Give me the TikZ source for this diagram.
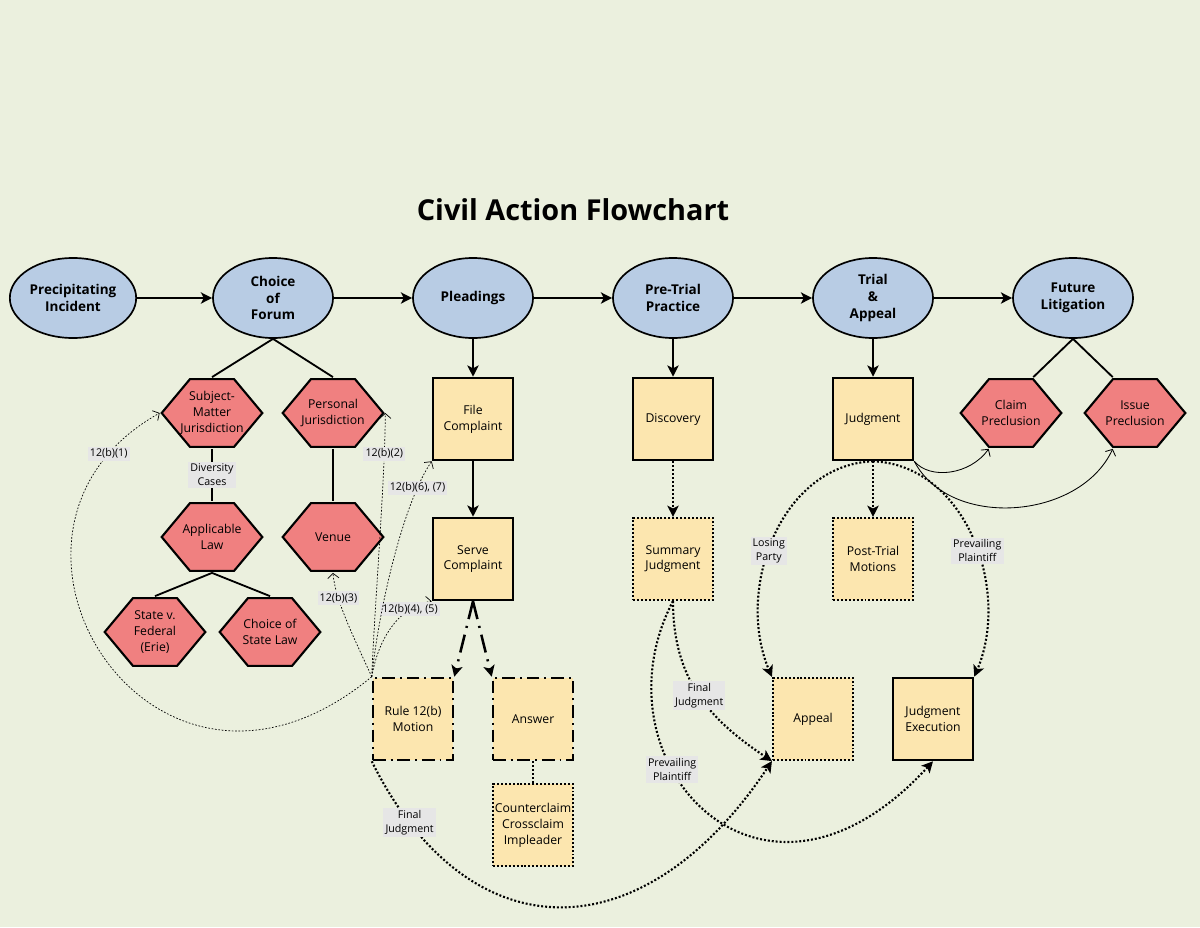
\documentclass[tikz,border=0pt]{standalone}
\usepackage{fontspec}
\setmainfont{Open Sans}
\usetikzlibrary{shapes.geometric,arrows.meta}
\definecolor{fond}{HTML}{EBF0DE}
\definecolor{bleu}{HTML}{B8CCE4}
\definecolor{rouge}{HTML}{F08080}
\definecolor{jaune}{HTML}{FCE6AF}
\definecolor{gris}{HTML}{E6E6E6}

\begin{document}
\begin{tikzpicture}[x=0.025cm,y=-0.025cm]
      \tikzstyle{etape}=[ellipse, draw, line width=1.2pt, fill=bleu, minimum width=3cm, minimum height=2cm, inner sep=1pt, align=center, font=\fontsize{9.6}{12}\selectfont\bfseries]
      \tikzstyle{hexa}=[rectangle, minimum width=2.6cm, minimum height=1.78cm, inner sep=0pt, align=center, fill=fond, font=\fontsize{8.7}{11.3}\selectfont,
        path picture={\filldraw[fill=rouge, draw=black, line width=1.5pt]
          ([xshift=1.2pt]path picture bounding box.west) -- ([xshift=0.75cm,yshift=-1.2pt]path picture bounding box.north west)
          -- ([xshift=-0.75cm,yshift=-1.2pt]path picture bounding box.north east) -- ([xshift=-1.2pt]path picture bounding box.east)
          -- ([xshift=-0.75cm,yshift=1.2pt]path picture bounding box.south east) -- ([xshift=0.75cm,yshift=1.2pt]path picture bounding box.south west) -- cycle;}]
      \tikzstyle{acte}=[rectangle, draw, line width=1.8pt, fill=jaune, minimum width=2cm, minimum height=2.05cm, inner sep=1pt, align=center, font=\fontsize{8.7}{11.3}\selectfont]
      \tikzstyle{actepoint}=[acte, line width=1.5pt, dash pattern=on 1.4pt off 1.4pt]
      \tikzstyle{actetiret}=[acte, dash pattern=on 9pt off 3.5pt on 1.4pt off 3.5pt]
      \tikzstyle{fleche}=[-{Stealth[length=8pt,width=8pt,inset=2pt]}, line width=1.3pt]
      \tikzstyle{flechepoint}=[fleche, line width=1.5pt, dash pattern=on 1.4pt off 1.4pt]
      \tikzstyle{flechetiret}=[fleche, line width=1.8pt, dash pattern=on 13pt off 5pt on 1.5pt off 5pt]
      \tikzstyle{lien}=[line width=1.3pt]
      \tikzstyle{mince}=[-{Straight Barb[length=3.5pt,width=8pt]}, line width=0.6pt]
      \tikzstyle{renvoi}=[mince, line width=0.5pt, dash pattern=on 1.2pt off 1.2pt]
      \tikzstyle{etiquette}=[fill=gris, inner sep=1.5pt, align=center, font=\fontsize{7.6}{10}\selectfont]

      \fill[fond] (0,0) rectangle (1200,927);
      \useasboundingbox (0,0) rectangle (1200,927);

      \node[font=\fontsize{20.5}{24}\selectfont\bfseries] (titre) at (573,210) {Civil Action Flowchart};

      % phases
      \node[etape] (incident) at (73,298) {Precipitating\\Incident};
      \node[etape] (forum) at (273,298) {Choice\\of\\Forum};
      \node[etape] (pleadings) at (473,298) {Pleadings};
      \node[etape] (pretrial) at (673,298) {Pre-Trial\\Practice};
      \node[etape] (trial) at (873,298) {Trial\\\&\\Appeal};
      \node[etape] (future) at (1073,298) {Future\\Litigation};

      % questions
      \node[hexa] (smj) at (212,413) {Subject-\\Matter\\Jurisdiction};
      \node[hexa] (pj) at (333,413) {Personal\\Jurisdiction};
      \node[hexa] (applaw) at (212,537) {Applicable\\Law};
      \node[hexa] (venue) at (333,537) {Venue};
      \node[hexa] (erie) at (155,632) {State v.\\Federal\\(Erie)};
      \node[hexa] (statelaw) at (270,632) {Choice of\\State Law};
      \node[hexa] (claim) at (1011,413) {Claim\\Preclusion};
      \node[hexa] (issue) at (1135,413) {Issue\\Preclusion};

      % actes
      \node[acte] (file) at (473,419) {File\\Complaint};
      \node[acte] (serve) at (473,559) {Serve\\Complaint};
      \node[acte] (discovery) at (673,419) {Discovery};
      \node[actepoint] (summary) at (673,559) {Summary\\Judgment};
      \node[acte] (judgment) at (873,419) {Judgment};
      \node[actepoint] (posttrial) at (873,559) {Post-Trial\\Motions};
      \node[actetiret] (rule) at (413,719) {Rule 12(b)\\Motion};
      \node[actetiret] (answer) at (533,719) {Answer};
      \node[actepoint] (counter) at (533,825) {Counterclaim\\Crossclaim\\Impleader};
      \node[actepoint] (appeal) at (813,719) {Appeal};
      \node[acte] (execution) at (933,719) {Judgment\\Execution};

      \draw[fleche] (incident)--(forum);
      \draw[fleche] (forum)--(pleadings);
      \draw[fleche] (pleadings)--(pretrial);
      \draw[fleche] (pretrial)--(trial);
      \draw[fleche] (trial)--(future);
      \draw[fleche] (pleadings)--(file);
      \draw[fleche] (file)--(serve);
      \draw[fleche] (pretrial)--(discovery);
      \draw[fleche] (trial)--(judgment);
      \draw[flechepoint] (discovery)--(summary);
      \draw[flechepoint] (judgment)--(posttrial);
      \draw[flechepoint, -] (answer)--(counter);
      \draw[flechetiret] (serve.south)--(rule.north east);
      \draw[flechetiret] (serve.south)--(answer.north west);

      \draw[lien] (forum.south)--(smj.north);
      \draw[lien] (forum.south)--(pj.north);
      \draw[lien] (smj)-- node[etiquette] {Diversity\\Cases} (applaw);
      \draw[lien] (pj)--(venue);
      \draw[lien] (applaw.south)--(erie.north);
      \draw[lien] (applaw.south)--(statelaw.north);
      \draw[lien] (future.south)--([xshift=-0.75cm]claim.north east);
      \draw[lien] (future.south)--([xshift=0.75cm]issue.north west);

      \draw[mince] (judgment.south east) .. controls (930,480) and (970,475) .. ([xshift=0.75cm]claim.south west);
      \draw[mince] (judgment.south east) .. controls (950,530) and (1080,520) .. ([xshift=0.75cm]issue.south west);

      \draw[flechepoint] (judgment.south) .. controls (780,465) and (735,590) .. (appeal.north west) node[etiquette, pos=0.55] {Losing\\Party};
      \draw[flechepoint] (judgment.south) .. controls (966,465) and (1011,590) .. (execution.north east) node[etiquette, pos=0.55] {Prevailing\\Plaintiff};
      \draw[flechepoint] (summary.south) .. controls (673,680) and (710,720) .. (appeal.south west) node[etiquette, pos=0.5] {Final\\Judgment};
      \draw[flechepoint] (summary.south) .. controls (590,760) and (760,950) .. (execution.south) node[etiquette, pos=0.37] {Prevailing\\Plaintiff};
      \draw[flechepoint] (rule.south west) .. controls (468,955) and (643,955) .. (appeal.south west) node[etiquette, pos=0.12] {Final\\Judgment};

      \draw[renvoi] (rule.north west) .. controls (150,860) and (-50,530) .. (smj.west) node[etiquette, pos=0.9] {12(b)(1)};
      \draw[renvoi] (rule.north west) .. controls (375,600) and (385,480) .. (pj.east) node[etiquette, pos=0.82] {12(b)(2)};
      \draw[renvoi] (rule.north west) .. controls (355,640) and (335,600) .. (venue.south) node[etiquette, pos=0.72] {12(b)(3)};
      \draw[renvoi] (rule.north west) .. controls (380,630) and (405,605) .. (serve.south west) node[etiquette, pos=0.72] {12(b)(4), (5)};
      \draw[renvoi] (rule.north west) .. controls (380,600) and (405,500) .. (file.south west) node[etiquette, pos=0.82] {12(b)(6), (7)};

    \end{tikzpicture}
\end{document}
